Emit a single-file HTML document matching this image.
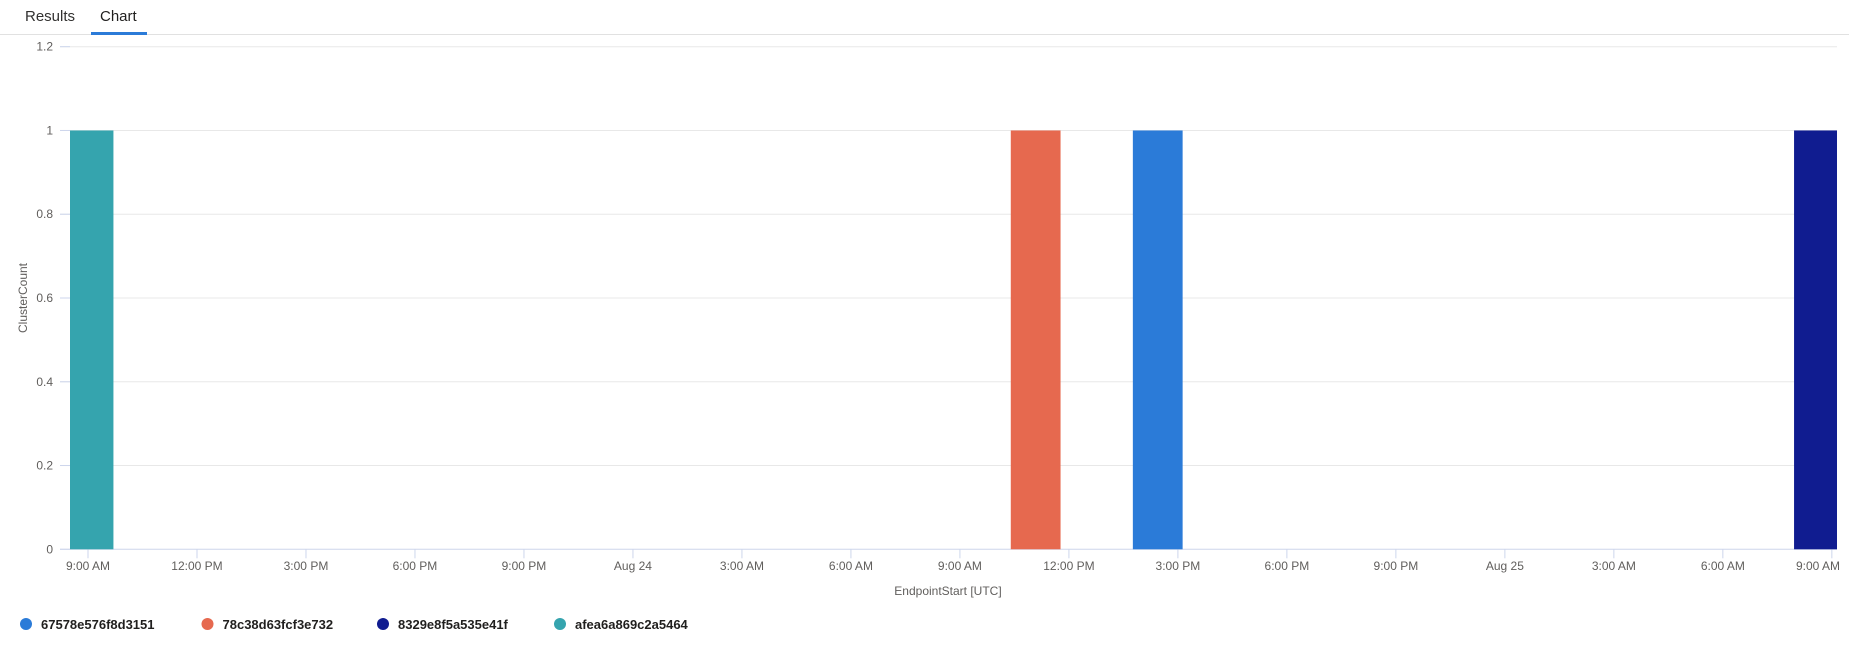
<!DOCTYPE html>
<html><head><meta charset="utf-8"><style>
body{margin:0;width:1849px;height:647px;background:#fff;font-family:"Liberation Sans",sans-serif;overflow:hidden;position:relative}
.tab{position:absolute;top:8px;font-size:15px;color:#323130}
</style></head><body>
<div class="tab" style="left:25px">Results</div>
<div class="tab" style="left:100px;color:#201f1e">Chart</div>
<div style="position:absolute;left:0;top:34px;width:1849px;height:1px;background:#e1e1e1"></div>
<div style="position:absolute;left:91px;top:32px;width:56px;height:3px;background:#2b7bd8"></div>
<svg id="chart" width="1849" height="647" style="position:absolute;left:0;top:0"></svg>
<script>
const yTicks=[0,0.2,0.4,0.6,0.8,1,1.2];
const xTickLabels=["9:00 AM","12:00 PM","3:00 PM","6:00 PM","9:00 PM","Aug 24","3:00 AM","6:00 AM","9:00 AM","12:00 PM","3:00 PM","6:00 PM","9:00 PM","Aug 25","3:00 AM","6:00 AM","9:00 AM"];
const xTickHours=[0,3,6,9,12,15,18,21,24,27,30,33,36,39,42,45,48];
const seriesNames=["67578e576f8d3151","78c38d63fcf3e732","8329e8f5a535e41f","afea6a869c2a5464"];
const seriesColors=["#2b7bd8","#e6694f","#101c90","#35a4ae"];
const barStartHours=[28.76,25.4,46.96,-0.67];
const barValues=[1,1,1,1];
const barWidthHours=1.37;
const NS="http://www.w3.org/2000/svg";
const svg=document.getElementById('chart');
const L=60,R=1837,T=46.7,B=549.3;
const x=h=>88+h*36.33;
const y=v=>B-(v/1.2)*(B-T);
function mk(t,a){const e=document.createElementNS(NS,t);for(const k in a)e.setAttribute(k,a[k]);svg.appendChild(e);return e;}
yTicks.forEach(v=>{
 const g=mk('line',{x1:L,x2:R,y1:y(v),y2:y(v),stroke:v===0?'#cdd6ec':'#e8e8e8','stroke-width':1});
 
 
 const tk=mk('line',{x1:L,x2:70,y1:y(v),y2:y(v),stroke:'#cdd6ec'});
 
 
 const t=mk('text',{x:53,y:y(v)+4,'text-anchor':'end','font-size':12,fill:'#605e5c'});
 t.textContent=v===0?'0':(v===1?'1':String(v));
 
 
});
xTickHours.forEach((h,i)=>{
 const tk=mk('line',{x1:x(h),x2:x(h),y1:B,y2:B+9,stroke:'#cdd6ec'});
 
 
 const t=mk('text',{x:Math.min(x(h),1818),y:570,'text-anchor':'middle','font-size':12,fill:'#605e5c'});
 t.textContent=xTickLabels[i];
 
 
});
barStartHours.forEach((h,i)=>{
 const x0=Math.max(L+10,x(h)),x1=Math.min(R,x(h+barWidthHours));
 const r=mk('rect',{x:x0,y:y(barValues[i]),width:x1-x0,height:B-y(barValues[i]),fill:seriesColors[i]});
 
 
});
const xt=mk('text',{x:948,y:595,'text-anchor':'middle','font-size':12,fill:'#605e5c'});
xt.textContent='EndpointStart [UTC]';


const yt=mk('text',{x:0,y:0,'text-anchor':'middle','font-size':12,fill:'#605e5c',transform:'translate(27,298) rotate(-90)'});
yt.textContent='ClusterCount';


const lx=[26,207.5,383,560];
seriesNames.forEach((n,i)=>{
 const c=mk('circle',{cx:lx[i],cy:624,r:6,fill:seriesColors[i]});
 
 
 const t=mk('text',{x:lx[i]+15,y:629,'font-size':13,'font-weight':'bold',fill:'#201f1e'});
 t.textContent=n;
 
 
});
</script>
</body></html>
